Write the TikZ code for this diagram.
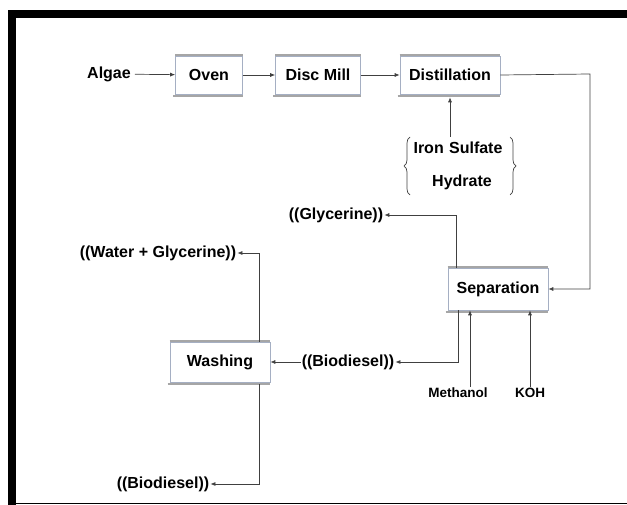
\documentclass[tikz,border=0pt]{standalone}
\usepackage{fontspec}
\setmainfont{Liberation Sans}
\usetikzlibrary{arrows.meta,positioning,calc,decorations.pathreplacing}
\definecolor{boxline}{RGB}{165,175,195}

\tikzset{
  lbl/.style={font=\fontsize{16}{19}\selectfont\bfseries, inner sep=1pt},
  small/.style={font=\fontsize{13.5}{16}\selectfont\bfseries, inner sep=1pt},
  procbox/.style={draw=boxline, line width=0.6pt, fill=white, minimum height=38pt,
    font=\fontsize{16}{19}\selectfont\bfseries,
    append after command={
      ([yshift=0.8pt]\tikzlastnode.north west) edge[draw=gray!70, line width=1.6pt] ([yshift=0.8pt]\tikzlastnode.north east)
      ([xshift=-2pt,yshift=-2pt]\tikzlastnode.south west) edge[draw=gray!70, line width=1.8pt] ([yshift=-2pt]\tikzlastnode.south east)}},
  flow/.style={draw=black!75, line width=0.7pt, -{Latex[length=5pt,width=4pt]}},
  brc/.style={draw=black!75, line width=0.7pt, decorate, decoration={brace, amplitude=6pt}}
}

\begin{document}
\begin{tikzpicture}[x=1pt,y=-1pt]
\useasboundingbox (0,0) rectangle (627,505);
% frame
\fill[black] (8,10) rectangle (627,18);
\fill[black] (8,10) rectangle (16,505);
\draw[line width=1pt] (16,503) -- (627,503);

% process boxes
\node[lbl] (algae) at (109,74) {Algae};
\node[procbox, minimum width=67pt] (oven) at (209,75) {Oven};
\node[procbox, minimum width=85pt] (mill) at (318,75) {Disc Mill};
\node[procbox, minimum width=100pt] (dist) at (450,75) {Distillation};
\node[procbox, minimum width=100pt, minimum height=42pt] (sep) at (498,289) {Separation};
\node[procbox, minimum width=100pt, minimum height=40pt] (wash) at (220,362) {Washing};

% inputs and outputs
\node[lbl, align=center, text width=100pt] (iron) at (458,166) {Iron Sulfate\\[14pt]\hspace*{8pt}Hydrate};
\node[lbl] (gly) at (336,215) {((Glycerine))};
\node[lbl] (bio1) at (348,362) {((Biodiesel))};
\node[lbl] (wg) at (158,253) {((Water + Glycerine))};
\node[lbl] (bio2) at (163,484) {((Biodiesel))};
\node[small] (meth) at (458,393) {Methanol};
\node[small] (koh) at (530,393) {KOH};
\coordinate (rt) at (590,74);

% braces
\draw[brc] ([xshift=-48pt,yshift=-29pt]iron.center) -- ([xshift=-48pt,yshift=29pt]iron.center);
\draw[brc] ([xshift=52pt,yshift=29pt]iron.center) -- ([xshift=52pt,yshift=-29pt]iron.center);

% connectors
\draw[flow, shorten <=3pt] (algae) -- (oven);
\draw[flow] (oven) -- (mill);
\draw[flow] (mill) -- (dist);
\draw[flow] ([yshift=29pt]iron.center -| dist.south) -- ([yshift=-3pt]dist.south);
\draw[flow] (dist.east) -- (rt) |- (sep.east);
\draw[flow] ([xshift=9pt]sep.north west) |- (gly.east);
\draw[flow] ([xshift=11pt]sep.south west) |- (bio1.east);
\draw[flow] (bio1.west) -- (wash.east);
\draw[flow] ([xshift=-11pt]wash.north east) |- (wg.east);
\draw[flow] ([xshift=-11pt,yshift=-2pt]wash.south east) |- (bio2.east);
\draw[flow] ([xshift=12pt]meth.north) -- ([xshift=12pt]meth.north |- sep.south);
\draw[flow] (koh.north) -- (koh.north |- sep.south);
\end{tikzpicture}
\end{document}
